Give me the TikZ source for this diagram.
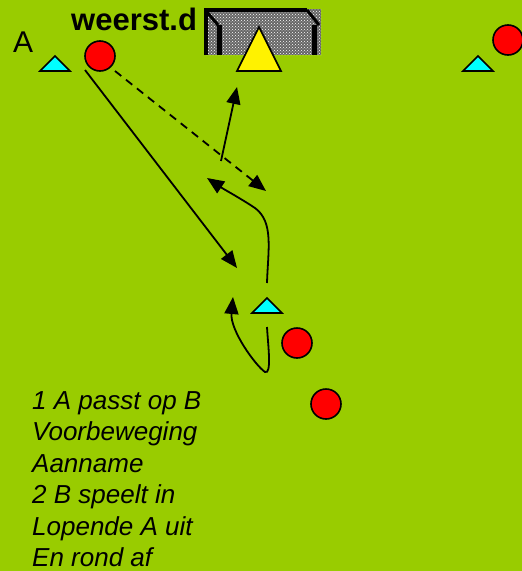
\documentclass[tikz,border=0pt]{standalone}
\usepackage{fontspec}
\setmainfont{Liberation Sans}
\usetikzlibrary{arrows.meta,patterns}
\definecolor{field}{HTML}{99CC00}
\definecolor{cyanp}{HTML}{00FFFF}
\tikzset{
  player/.style={draw=black,line width=1.6pt,fill=red,circle,minimum size=30pt,inner sep=0pt},
  cone/.style={draw=black,line width=1.6pt,fill=cyanp},
  move/.style={line width=1.8pt,-{Triangle[length=17pt,width=14pt]}},
  pass/.style={move,dash pattern=on 8pt off 6pt},
  txt/.style={font=\fontsize{26}{30}\selectfont\itshape,anchor=base west,inner sep=0pt},
}
\begin{document}
\begin{tikzpicture}[x=1pt,y=-1pt]
\useasboundingbox (0,0) rectangle (522,571);
\fill[field] (0,0) rectangle (522,571);
% texts
\node[anchor=base west,inner sep=0pt,font=\fontsize{30}{34}\selectfont] (labA) at (13,52) {A};
\node[anchor=base west,inner sep=0pt,font=\fontsize{31}{36}\selectfont\bfseries] (title) at (71,30) {weerst.d};
% goal
\fill[black!60] (205,9) rectangle (321,55);
\fill[pattern=crosshatch dots,pattern color=white] (205,9) rectangle (321,55);
\draw[line width=4pt] (206,55) -- (206,10) -- (307,10);
\draw[line width=3pt] (206,11) -- (218,25);
\draw[line width=5pt] (219,25) -- (219,55);
\draw[line width=3pt] (307,10) -- (319,25);
\draw[line width=5pt] (314,25) -- (314,55);
% yellow cone
\draw[line width=1.6pt,fill=yellow] (237,71) -- (259,27) -- (281,71) -- cycle;
% cones
\draw[cone] (40,71) -- (55,56) -- (70,71) -- cycle;
\draw[cone] (463,71) -- (478,56) -- (493,71) -- cycle;
\draw[cone] (252,313) -- (267,298) -- (282,313) -- cycle;
% players
\node[player] (pA) at (100,56) {};
\node[player] (pR) at (508,40) {};
\node[player] (pB) at (297,343) {};
\node[player] (pC) at (326,404) {};
% connectors
\coordinate (s1) at (85,70);
\coordinate (e1) at (237,268);
\coordinate (s2) at (115,71);
\coordinate (e2) at (266,191);
\coordinate (s3) at (221,161);
\coordinate (e3) at (237,87);
\coordinate (s4) at (267,283);
\coordinate (e4) at (207,178);
\coordinate (s5) at (267,327);
\coordinate (e5) at (233,297);
\draw[move] (s1) -- (e1);
\draw[pass] (s2) -- (e2);
\draw[move] (s3) -- (e3);
\draw[move] (s4) .. controls (268,250) and (274,222) .. (255,208) .. controls (240,198) and (225,190) .. (e4);
\draw[move] (s5) .. controls (268,345) and (272,375) .. (265,372) .. controls (255,365) and (230,330) .. (e5);
% text
\node[txt] (t1) at (32,409) {1 A passt op B};
\node[txt] (t2) at (32,440.5) {Voorbeweging};
\node[txt] (t3) at (32,472) {Aanname};
\node[txt] (t4) at (32,503.5) {2 B speelt in};
\node[txt] (t5) at (32,535) {Lopende A uit};
\node[txt] (t6) at (32,566.5) {En rond af};
\end{tikzpicture}
\end{document}
